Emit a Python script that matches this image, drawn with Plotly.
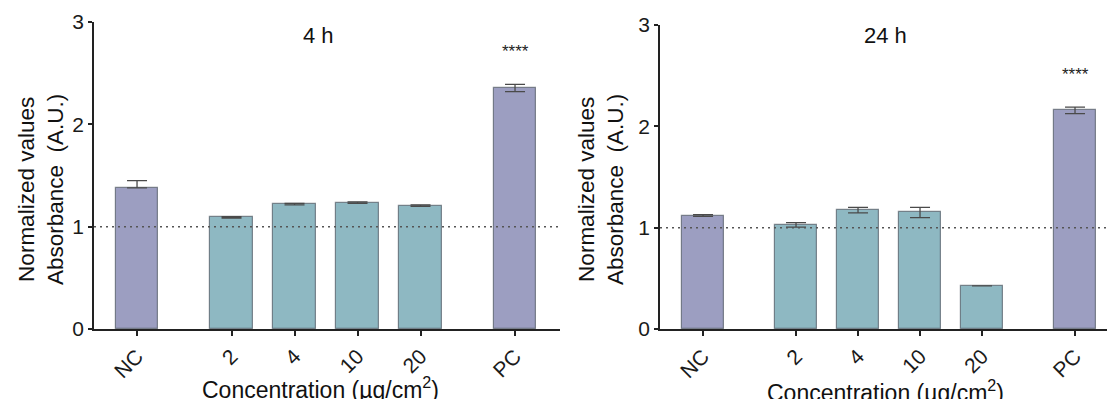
import plotly.graph_objects as go

# Groups along the x axis: negative control, concentrations, positive control
categories = ["NC", "2", "4", "10", "20", "PC"]
group_of = ["ctrl", "conc", "conc", "conc", "conc", "ctrl2"]

# 4 h measurements (normalized absorbance, A.U.)
values_4h = [1.38, 1.09, 1.22, 1.235, 1.205, 2.355]
err_up_4h = [0.07, 0.007, 0.007, 0.007, 0.007, 0.035]
err_down_4h = [0.0, 0.007, 0.007, 0.007, 0.007, 0.035]

# 24 h measurements (normalized absorbance, A.U.)
values_24h = [1.12, 1.025, 1.17, 1.15, 0.425, 2.16]
err_up_24h = [0.008, 0.025, 0.03, 0.05, 0.0, 0.03]
err_down_24h = [0.008, 0.02, 0.025, 0.05, 0.0, 0.035]

significance = "****"
panel_titles = ["4 h", "24 h"]
x_title = "Concentration (µg/cm<sup>2</sup>)"
y_title = "Normalized values<br>Absorbance  (A.U.)"

# x positions: one unit per bar, an extra half unit between groups
positions = []
p = 0.0
for i, g in enumerate(group_of):
    if i > 0:
        p += 1.0 + (0.5 if g != group_of[i - 1] else 0.0)
    positions.append(p)

PURPLE = "#9c9ec1"
TEAL = "#8eb8c2"
bar_colors = [PURPLE if g != "conc" else TEAL for g in group_of]

FONT = "Liberation Sans, Arial, sans-serif"
W, H = 1107, 399

fig = go.Figure()

panels = [
    ("x", "y", values_4h, err_up_4h, err_down_4h),
    ("x2", "y2", values_24h, err_up_24h, err_down_24h),
]
for xa, ya, vals, eu, ed in panels:
    fig.add_trace(go.Bar(
        x=positions, y=vals, xaxis=xa, yaxis=ya,
        width=0.67,
        marker=dict(color=bar_colors, line=dict(color="rgba(70,80,90,0.65)", width=1.2)),
        error_y=dict(type="data", symmetric=False, array=eu, arrayminus=ed,
                     color="#4a4a4a", thickness=1.3, width=10),
        showlegend=False, hoverinfo="skip",
    ))

axis_common = dict(
    showgrid=False, zeroline=False, showline=True, linecolor="#222222", linewidth=1.8,
    ticks="outside", tickcolor="#222222", tickwidth=1.5, automargin=False,
    tickfont=dict(family=FONT, size=21, color="#1a1a1a"),
)
x_common = dict(tickvals=positions, ticktext=categories, tickangle=-45, ticklen=5,
                **axis_common)

fig.update_layout(
    width=W, height=H,
    margin=dict(l=0, r=0, t=0, b=0, autoexpand=False),
    paper_bgcolor="white", plot_bgcolor="white",
    bargap=0,
    xaxis=dict(domain=[94 / W, 560 / W], range=[-0.683, 6.714], anchor="y", **x_common),
    yaxis=dict(domain=[70 / H, 377 / H], range=[0, 3], tickvals=[0, 1, 2, 3],
               ticklen=4, anchor="x", **axis_common),
    xaxis2=dict(domain=[660 / W, 1.0], range=[-0.694, 6.516], anchor="y2", **x_common),
    yaxis2=dict(domain=[70 / H, 374 / H], range=[0, 3], tickvals=[0, 1, 2, 3],
                ticklen=4, anchor="x2", **axis_common),
)

# reference level at 1.0 across each panel
for xa, ya in [("x", "y"), ("x2", "y2")]:
    fig.add_shape(type="line", xref=f"{xa} domain", yref=ya, x0=0, x1=1, y0=1, y1=1,
                  line=dict(color="#555555", width=1.5, dash="2px,4px"), layer="above")

annotations = []
# panel titles
for title, xc in zip(panel_titles, [318, 885]):
    annotations.append(dict(text=title, x=xc / W, y=(H - 35) / H, xref="paper", yref="paper",
                            xanchor="center", yanchor="middle", showarrow=False,
                            font=dict(family=FONT, size=22, color="#111111")))
# significance marks above the positive controls
for (xa, ya), vals, eu in [(("x", "y"), values_4h, err_up_4h), (("x2", "y2"), values_24h, err_up_24h)]:
    annotations.append(dict(text=significance, x=positions[-1], y=vals[-1] + eu[-1] + 0.32,
                            xref=xa, yref=ya, xanchor="center", yanchor="middle", showarrow=False,
                            font=dict(family=FONT, size=17, color="#222222")))
# y-axis titles
for xc in [41, 601]:
    annotations.append(dict(text=y_title, x=xc / W, y=(H - 190) / H, xref="paper", yref="paper",
                            xanchor="center", yanchor="middle", textangle=-90, showarrow=False,
                            font=dict(family=FONT, size=22.5, color="#111111")))
# x-axis titles
for xc, yc in [(320, 388), (885, 391)]:
    annotations.append(dict(text=x_title, x=xc / W, y=(H - yc) / H, xref="paper", yref="paper",
                            xanchor="center", yanchor="middle", showarrow=False,
                            font=dict(family=FONT, size=23, color="#111111")))
fig.update_layout(annotations=annotations)

fig.write_html("out.html")
